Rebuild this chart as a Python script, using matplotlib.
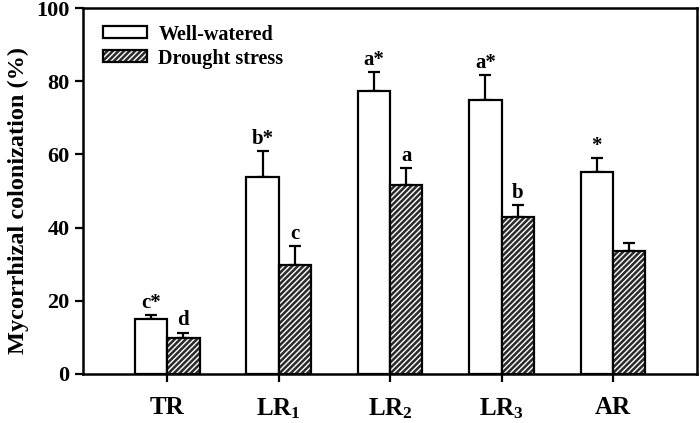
import numpy as np
import matplotlib
matplotlib.use("Agg")
import matplotlib.pyplot as plt
from matplotlib.patches import Patch
from matplotlib.legend_handler import HandlerTuple

plt.rcParams['font.family'] = ['Liberation Serif', 'DejaVu Serif']
plt.rcParams['font.weight'] = 'bold'
plt.rcParams['mathtext.fontset'] = 'custom'
plt.rcParams['mathtext.default'] = 'bf'
plt.rcParams['mathtext.bf'] = 'Liberation Serif:bold'
plt.rcParams['mathtext.rm'] = 'Liberation Serif:bold'
plt.rcParams['hatch.linewidth'] = 1.0

# data
groups = ['TR', 'LR$_1$', 'LR$_2$', 'LR$_3$', 'AR']
well = [14.9, 53.7, 77.2, 75.0, 55.1]
well_err = [1.2, 7.2, 5.3, 6.6, 3.8]
drought = [9.8, 29.9, 51.6, 43.0, 33.5]
drought_err = [1.5, 5.1, 4.6, 3.2, 2.2]
well_lbl = ['c*', 'b*', 'a*', 'a*', '*']
drought_lbl = ['d', 'c', 'a', 'b', '']

x = np.arange(len(groups))
w = 0.29
dark = '#2b2b2b'

fig, ax = plt.subplots(figsize=(7, 4.23), dpi=100)
fig.subplots_adjust(left=0.118, right=0.995, top=0.981, bottom=0.116)

ax.bar(x - w / 2, well, w, color='white', edgecolor='black', linewidth=1.6, zorder=3)
ax.errorbar(x - w / 2, well, yerr=[np.zeros(5), well_err], fmt='none',
            ecolor='black', elinewidth=1.6, capsize=4.5, capthick=1.6, zorder=2)

ax.bar(x + w / 2, drought, w, color=dark, edgecolor='white', hatch='//////',
       linewidth=0, zorder=3)
ax.bar(x + w / 2, drought, w, fill=False, edgecolor='black', linewidth=1.6, zorder=4)
ax.errorbar(x + w / 2, drought, yerr=[np.zeros(5), drought_err], fmt='none',
            ecolor='black', elinewidth=1.6, capsize=4.5, capthick=1.6, zorder=2)

for i in range(len(groups)):
    ax.text(x[i] - w / 2, well[i] + well_err[i] + 0.6, well_lbl[i],
            ha='center', va='bottom', fontsize=15, fontweight='bold')
    if drought_lbl[i]:
        ax.text(x[i] + w / 2, drought[i] + drought_err[i] + 0.6, drought_lbl[i],
                ha='center', va='bottom', fontsize=15, fontweight='bold')

ax.set_xlim(-0.76, 4.75)
ax.set_ylim(0, 100)
ax.set_yticks([0, 20, 40, 60, 80, 100])
ax.set_xticks(x)
ax.set_xticklabels(groups)
ax.tick_params(axis='both', direction='out', length=6, width=1.6, labelsize=16)
ax.tick_params(axis='x', pad=10, labelsize=18)
for lab in ax.get_xticklabels() + ax.get_yticklabels():
    lab.set_fontweight('bold')
for s in ax.spines.values():
    s.set_linewidth(1.8)
ax.set_ylabel('Mycorrhizal colonization (%)', fontsize=17.5, fontweight='bold')
ax.yaxis.set_label_coords(-0.087, 0.473)

h1 = Patch(facecolor='white', edgecolor='black', linewidth=1.6)
h2a = Patch(facecolor=dark, edgecolor='white', hatch='//////', linewidth=0)
h2b = Patch(fill=False, edgecolor='black', linewidth=1.6)
ax.legend([h1, (h2a, h2b)], ['Well-watered', 'Drought stress'],
          handler_map={tuple: HandlerTuple(ndivide=1, pad=0)},
          loc='upper left', bbox_to_anchor=(0.033, 0.955), frameon=False,
          borderaxespad=0, borderpad=0,
          handlelength=2.2, handleheight=0.55, labelspacing=0.2,
          handletextpad=0.55, prop={'weight': 'bold', 'size': 14.5})

fig.savefig('out.png', dpi=100)
